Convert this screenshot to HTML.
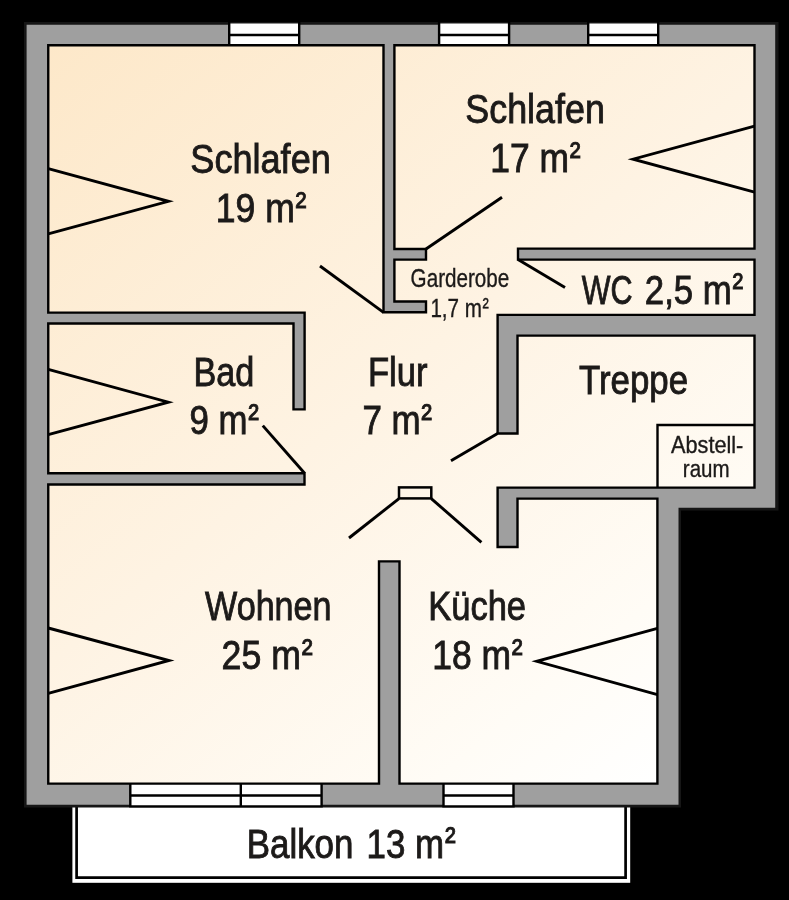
<!DOCTYPE html>
<html><head><meta charset="utf-8"><style>
html,body{margin:0;padding:0;background:#000;}
svg{display:block;will-change:transform;}
text{font-family:"Liberation Sans",sans-serif;fill:#1c1a19;stroke:#1c1a19;}
</style></head><body>
<svg width="789" height="900" viewBox="0 0 789 900">
<defs>
<linearGradient id="g" gradientUnits="userSpaceOnUse" x1="47" y1="44" x2="657" y2="785">
<stop offset="0" stop-color="#fde8c9"/>
<stop offset="0.5" stop-color="#fef3e3"/>
<stop offset="0.85" stop-color="#fffcf6"/>
<stop offset="1" stop-color="#ffffff"/>
</linearGradient>
</defs>
<rect width="789" height="900" fill="#000"/>
<!-- balcony -->
<rect x="72.4" y="800" width="557.8" height="82.8" fill="#fff"/>
<path d="M76.6,800 V877.7 H625.6 V800" stroke="#000" stroke-width="2.7" fill="none"/>
<!-- building outline -->
<polygon points="24,22 778.5,22 778.5,510.5 681,510.5 681,807.5 24,807.5" fill="#161616"/>
<polygon points="26.6,24.7 775.2,24.7 775.2,507.7 678.5,507.7 678.5,804.8 26.6,804.8" fill="#9f9f9f"/>
<rect x="229.2" y="23.5" width="70.0" height="22" fill="#fff"/>
<path d="M229.2,22 V46.5 M299.2,22 V46.5 M229.2,35 H299.2" stroke="#000" stroke-width="2.4" fill="none"/>
<rect x="439.1" y="23.5" width="70.0" height="22" fill="#fff"/>
<path d="M439.1,22 V46.5 M509.1,22 V46.5 M439.1,35 H509.1" stroke="#000" stroke-width="2.4" fill="none"/>
<rect x="588.2" y="23.5" width="70.0" height="22" fill="#fff"/>
<path d="M588.2,22 V46.5 M658.2,22 V46.5 M588.2,35 H658.2" stroke="#000" stroke-width="2.4" fill="none"/>
<rect x="130.3" y="784" width="191.3" height="22" fill="#fff"/>
<path d="M130.3,782.5 V807.5 M321.6,782.5 V807.5 M130.3,795.5 H321.6 M130.3,806.4 H321.6 M240.8,782.5 V807.5" stroke="#000" stroke-width="2.4" fill="none"/>
<rect x="443.5" y="784" width="70.0" height="22" fill="#fff"/>
<path d="M443.5,782.5 V807.5 M513.5,782.5 V807.5 M443.5,795.5 H513.5 M443.5,806.4 H513.5" stroke="#000" stroke-width="2.4" fill="none"/>
<polygon points="48.25,45.25 383.5,45.25 383.5,312.3 426,312.3 426,301.5 394.4,301.5 394.4,259.6 426,259.6 426,249 394.4,249 394.4,45.25 754.5,45.25 754.5,248.6 518,248.6 518,259.6 754.5,259.6 754.5,314.9 497.6,314.9 497.6,433.5 517.5,433.5 517.5,335.6 754.5,335.6 754.5,487.6 497.6,487.6 497.6,547 517.5,547 517.5,498.6 657.4,498.6 657.4,783.6 399.5,783.6 399.5,561.4 379,561.4 379,783.6 48.25,783.6 48.25,484.5 304.5,484.5 304.5,473.2 48.25,473.2 48.25,323.5 293.5,323.5 293.5,409.4 304.6,409.4 304.6,312.6 48.25,312.6" fill="url(#g)" stroke="#000" stroke-width="2.4" stroke-linejoin="miter"/>
<!-- abstellraum -->
<path d="M657.5,488 V425 H755" stroke="#000" stroke-width="2.4" fill="none"/>
<!-- doors / symbols -->
<g stroke="#000" stroke-width="2.9" fill="none" stroke-linecap="butt">
<path d="M383.5,312.3 L320,266"/>
<path d="M426,249 L502,197.2"/>
<path d="M518,259.6 L565,287.6"/>
<path d="M497.6,433.5 L451,460.8"/>
<path d="M304.6,473.2 L262.8,425.6"/>
<rect x="399" y="487.4" width="32.3" height="11" stroke-width="2.5"/>
<path d="M399,498.6 L349,538"/>
<path d="M431.3,498.6 L481.4,542.4"/>
<path d="M48.25,168.6 L168.4,201.3 L48.25,233.8"/>
<path d="M48.25,369.3 L168.3,402.2 L48.25,434.6"/>
<path d="M48.25,628 L169,660.5 L48.25,693.4"/>
<path d="M754.5,126.2 L633.1,159.2 L754.5,192.2"/>
<path d="M657.4,628.4 L536.8,661.3 L657.4,694.6"/>
</g>
<text transform="translate(190.31,173.38) scale(0.8897,1)" font-size="40.6" stroke-width="0.9">Schlafen</text>
<text transform="translate(215.75,222.08) scale(0.8755,1)" font-size="40.6" stroke-width="0.9">19 m<tspan font-size="37.35" dy="-4.51" dx="0.81">²</tspan></text>
<text transform="translate(465.32,122.88) scale(0.8833,1)" font-size="40.6" stroke-width="0.9">Schlafen</text>
<text transform="translate(490.25,172.47) scale(0.8725,1)" font-size="40.6" stroke-width="0.9">17 m<tspan font-size="37.35" dy="-4.51" dx="0.81">²</tspan></text>
<text transform="translate(410.60,286.61) scale(0.8066,1)" font-size="25.6" stroke-width="0.36000000000000004">Garderobe</text>
<text transform="translate(430.39,316.51) scale(0.8069,1)" font-size="25.6" stroke-width="0.36000000000000004">1,7 m<tspan font-size="23.55" dy="-1.43" dx="0.51">²</tspan></text>
<text transform="translate(581.65,303.67) scale(0.7515,1)" font-size="40.6" stroke-width="0.9">WC</text>
<text transform="translate(644.84,303.67) scale(0.8570,1)" font-size="40.6" stroke-width="0.9">2,5 m<tspan font-size="37.35" dy="-4.51" dx="0.81">²</tspan></text>
<text transform="translate(193.52,385.57) scale(0.8420,1)" font-size="40.6" stroke-width="0.9">Bad</text>
<text transform="translate(189.54,434.47) scale(0.8568,1)" font-size="40.6" stroke-width="0.9">9 m<tspan font-size="37.35" dy="-4.51" dx="0.81">²</tspan></text>
<text transform="translate(367.89,385.57) scale(0.8529,1)" font-size="40.6" stroke-width="0.9">Flur</text>
<text transform="translate(362.44,434.47) scale(0.8605,1)" font-size="40.6" stroke-width="0.9">7 m<tspan font-size="37.35" dy="-4.51" dx="0.81">²</tspan></text>
<text transform="translate(579.00,394.07) scale(0.8583,1)" font-size="40.6" stroke-width="0.9">Treppe</text>
<text transform="translate(671.02,453.01) scale(0.9228,1)" font-size="23.5" stroke-width="0.36000000000000004">Abstell-</text>
<text transform="translate(682.80,476.61) scale(0.8736,1)" font-size="23.5" stroke-width="0.36000000000000004">raum</text>
<text transform="translate(205.04,619.98) scale(0.8413,1)" font-size="40.6" stroke-width="0.9">Wohnen</text>
<text transform="translate(221.62,669.48) scale(0.8796,1)" font-size="40.6" stroke-width="0.9">25 m<tspan font-size="37.35" dy="-4.51" dx="0.81">²</tspan></text>
<text transform="translate(428.20,620.07) scale(0.8504,1)" font-size="40.6" stroke-width="0.9">Küche</text>
<text transform="translate(432.25,669.48) scale(0.8735,1)" font-size="40.6" stroke-width="0.9">18 m<tspan font-size="37.35" dy="-4.51" dx="0.81">²</tspan></text>
<text transform="translate(246.68,857.67) scale(0.8603,1)" font-size="40.6" stroke-width="0.9">Balkon</text>
<text transform="translate(366.58,857.67) scale(0.8598,1)" font-size="40.6" stroke-width="0.9">13 m<tspan font-size="37.35" dy="-4.51" dx="0.81">²</tspan></text>
</svg>
</body></html>
